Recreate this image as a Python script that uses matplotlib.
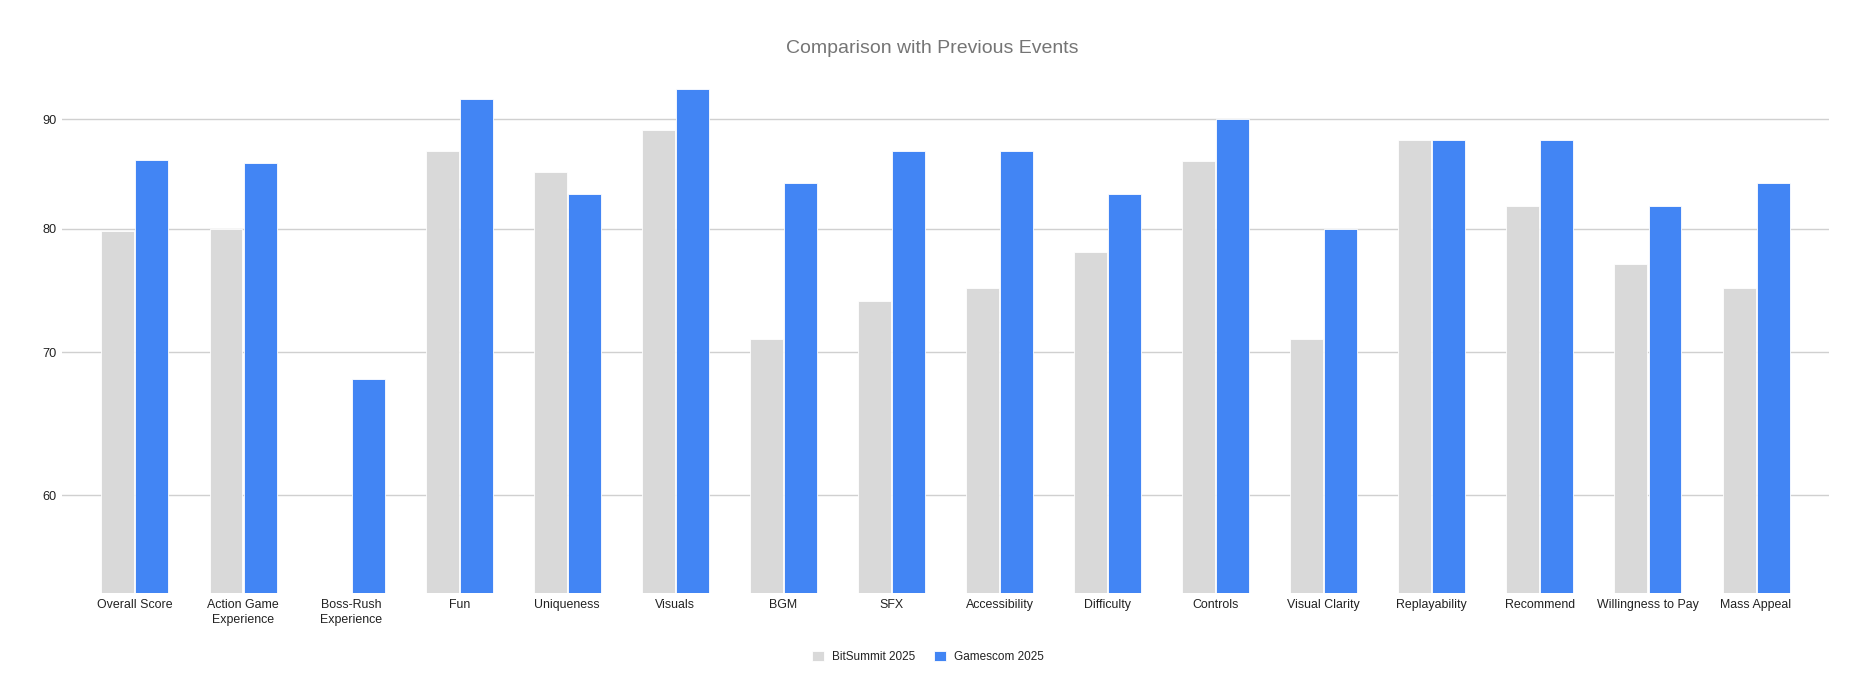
import matplotlib
matplotlib.use("Agg")
import matplotlib.pyplot as plt
import numpy as np
from matplotlib.ticker import FixedLocator, NullLocator, FixedFormatter

categories = ["Overall Score", "Action Game\nExperience", "Boss-Rush\nExperience", "Fun",
              "Uniqueness", "Visuals", "BGM", "SFX", "Accessibility", "Difficulty",
              "Controls", "Visual Clarity", "Replayability", "Recommend",
              "Willingness to Pay", "Mass Appeal"]
bitsummit = [79.8, 80, np.nan, 87, 85, 89, 71, 74, 75, 78, 86, 71, 88, 82, 77, 75]
gamescom = [86.1, 85.9, 68, 92, 83, 93, 84, 87, 87, 83, 90, 80, 88, 88, 82, 84]
series_names = ["BitSummit 2025", "Gamescom 2025"]
yticks = [60, 70, 80, 90]

plt.rcParams['font.family'] = ['Liberation Sans', 'DejaVu Sans']

W, H = 1864, 699
fig = plt.figure(figsize=(W/100, H/100), dpi=100)
bottom_px, top_px = 592.5, 69.2
ax = fig.add_axes([62/W, 1-bottom_px/H, (1829-62)/W, (bottom_px-top_px)/H])

x = np.arange(len(categories))
w = 0.305
ax.bar(x - w/2 - 0.005, bitsummit, width=w, color="#d9d9d9", label=series_names[0],
       edgecolor="white", linewidth=0.6, zorder=3)
ax.bar(x + w/2 + 0.005, gamescom, width=w, color="#4285f4", label=series_names[1],
       edgecolor="white", linewidth=0.6, zorder=3)

ax.set_yscale("log")
ax.set_ylim(54.03, 95)
ax.set_xlim(-0.675, len(categories) - 1 + 0.675)
ax.yaxis.set_major_locator(FixedLocator(yticks))
ax.yaxis.set_major_formatter(FixedFormatter([str(t) for t in yticks]))
ax.yaxis.set_minor_locator(NullLocator())
ax.grid(axis="y", color="#d0d0d0", linewidth=1, zorder=0)
ax.set_xticks(x)
ax.set_xticklabels(categories, fontsize=8.9, color="#222222", linespacing=1.25)
ax.tick_params(axis="y", length=0, pad=4.2, labelsize=9.2, labelcolor="#222222")
ax.tick_params(axis="x", length=0, pad=5)
for s in ax.spines.values():
    s.set_visible(False)

fig.text(932/W, 1-48.5/H, "Comparison with Previous Events", ha="center", va="center",
         fontsize=14, color="#757575")

leg = fig.legend(loc="center", bbox_to_anchor=(0.498, 1-657/H), ncol=2, frameon=False,
                 fontsize=8.5, handlelength=0.98, handleheight=0.98, handletextpad=0.7,
                 columnspacing=1.6)
for t in leg.get_texts():
    t.set_color("#222222")

fig.savefig("out.png", dpi=100)
